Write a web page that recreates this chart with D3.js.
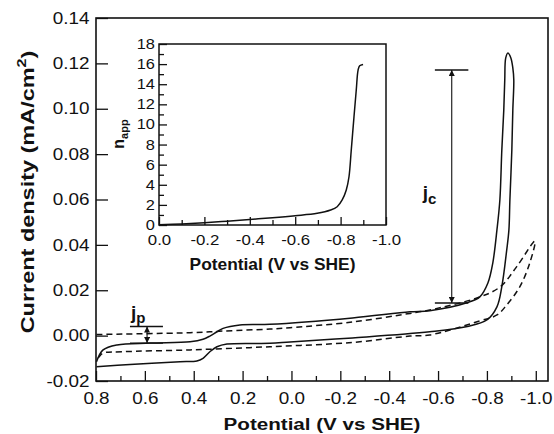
<!DOCTYPE html>
<html>
<head>
<meta charset="utf-8">
<script src="https://cdn.jsdelivr.net/npm/d3@7"></script>
<style>
body { margin: 0; background: #fff; }
text { font-family: "Liberation Sans", Arial, sans-serif; fill: #111; }
</style>
</head>
<body>
<div id="chart"></div>
<script>
// ---- data ----
// solid CV: forward scan (lower branch), peak, return scan (upper branch)
const cvPotential = [0.798, 0.661, 0.456, 0.387, 0.362, 0.334, 0.305, 0.264, 0.088, 0.006, -0.25, -0.566, -0.72, -0.800,
    -0.841, -0.861, -0.881, -0.890, -0.894, -0.902, -0.906, -0.910, -0.906, -0.898, -0.886, -0.877, -0.873, -0.869,
    -0.861, -0.853, -0.841, -0.824, -0.804, -0.771, -0.718, -0.566, -0.485, -0.25, 0.088, 0.211, 0.280, 0.305, 0.334,
    0.362, 0.415, 0.579, 0.714, 0.771, 0.798];
const cvCurrent = [-0.0137, -0.0127, -0.0115, -0.0112, -0.0100, -0.0071, -0.0049, -0.0037, -0.0034, -0.0028, -0.0010,
    0.0017, 0.0040, 0.0069, 0.0127, 0.0216, 0.0377, 0.0466, 0.0598, 0.0818, 0.0994, 0.1127, 0.1180, 0.1224, 0.1246,
    0.1224, 0.1127, 0.0994, 0.0818, 0.0598, 0.0466, 0.0320, 0.0232, 0.0171, 0.0145, 0.0110, 0.0105, 0.0078, 0.0050,
    0.0047, 0.0032, 0.0017, -0.0002, -0.0016, -0.0027, -0.0033, -0.0041, -0.0063, -0.0115];

// dashed CV (background)
const bgPotential = [0.798, 0.415, 0.280, 0.088, 0.006, -0.25, -0.485, -0.566, -0.759, -0.853, -0.922, -0.996, -0.975,
    -0.935, -0.881, -0.841, -0.771, -0.566, -0.485, -0.25, 0.088, 0.415, 0.690, 0.771, 0.788, 0.798];
const bgCurrent = [0.0005, 0.0013, 0.0020, 0.0029, 0.0035, 0.0060, 0.0098, 0.0113, 0.0166, 0.0214, 0.0304, 0.0416,
    0.0319, 0.0216, 0.0135, 0.0091, 0.0065, 0.0003, -0.0002, -0.0030, -0.0049, -0.0063, -0.0071, -0.0077, -0.0094, -0.0108];

// inset: n_app vs potential
const napPotential = [0.0, -0.1, -0.2, -0.3, -0.4, -0.5, -0.6, -0.697, -0.756, -0.785, -0.807, -0.825, -0.837, -0.847,
    -0.859, -0.869, -0.877, -0.884, -0.899];
const napValue = [0.02, 0.1, 0.22, 0.38, 0.55, 0.72, 0.92, 1.16, 1.49, 1.82, 2.49, 3.48, 4.80, 7.46, 10.77, 13.42,
    15.41, 15.84, 15.97];

// annotations: [potential, low current, high current], bar span [from, to]
const jcMark = [-0.656, 0.0144, 0.1171];
const jcBar = [-0.587, -0.724];
const jpMark = [0.591, -0.0033, 0.0040];
const jpBar = [0.661, 0.526];

// ticks
const mainXTicks = [0.8, 0.6, 0.4, 0.2, 0.0, -0.2, -0.4, -0.6, -0.8, -1.0];
const mainXMinor = [0.7, 0.5, 0.3, 0.1, -0.1, -0.3, -0.5, -0.7, -0.9];
const mainYTicks = [-0.02, 0.00, 0.02, 0.04, 0.06, 0.08, 0.10, 0.12, 0.14];
const insetXTicks = [0.0, -0.2, -0.4, -0.6, -0.8, -1.0];
const insetXMinor = [-0.1, -0.3, -0.5, -0.7, -0.9];
const insetYTicks = [0, 2, 4, 6, 8, 10, 12, 14, 16, 18];
const insetYMinor = [1, 3, 5, 7, 9, 11, 13, 15, 17];

const fmt = d3.formatLocale({decimal: ".", thousands: ",", grouping: [3], currency: ["", ""], minus: "-"}).format;

const width = 554, height = 434;
const svg = d3.select("#chart")
    .append("svg")
    .attr("width", width)
    .attr("height", height);

// main scales
const x = d3.scaleLinear().domain([0.8, -1.05]).range([96, 548]);
const y = d3.scaleLinear().domain([-0.02, 0.14]).range([381, 18]);

// the figure's font runs wider than Arial, so labels get a horizontal stretch
function styleAxis(g, size, stretch) {
    g.attr("font-size", size).attr("font-family", "'Liberation Sans', Arial, sans-serif");
    g.select(".domain").remove();
    g.selectAll(".tick line").attr("stroke", "#111").attr("stroke-width", 1.3);
    g.selectAll(".tick text").attr("fill", "#111").attr("transform", `scale(${stretch},1)`);
}

// stretch a centred title along its own direction to a target length
function fitText(t, target) {
    const w = t.node().getBBox().width;
    t.attr("transform", (t.attr("transform") || "") + ` scale(${target / w},1)`);
}

// main x axis (ticks inward)
svg.append("g")
    .attr("transform", `translate(0,${y.range()[0]})`)
    .call(d3.axisBottom(x).tickValues(mainXTicks).tickFormat(fmt(".1f")).tickSize(-10).tickSizeOuter(0).tickPadding(11.5))
    .call(g => styleAxis(g, 16, 1.18));
svg.append("g")
    .attr("transform", `translate(0,${y.range()[0]})`)
    .call(d3.axisBottom(x).tickValues(mainXMinor).tickFormat("").tickSize(-5).tickSizeOuter(0))
    .call(g => styleAxis(g, 16, 1));

// main y axis
svg.append("g")
    .attr("transform", `translate(${x.range()[0]},0)`)
    .call(d3.axisLeft(y).tickValues(mainYTicks).tickFormat(fmt(".2f")).tickSize(-12).tickSizeOuter(0).tickPadding(5.5))
    .call(g => styleAxis(g, 16, 1.18));

// frame
svg.append("rect")
    .attr("x", x.range()[0]).attr("y", y.range()[1])
    .attr("width", x.range()[1] - x.range()[0])
    .attr("height", y.range()[0] - y.range()[1])
    .attr("fill", "none").attr("stroke", "#111").attr("stroke-width", 1.6);

// curves
const line = d3.line()
    .x(d => x(d[0]))
    .y(d => y(d[1]))
    .curve(d3.curveCatmullRom.alpha(0.5));

svg.append("path")
    .attr("d", line(d3.zip(bgPotential, bgCurrent)))
    .attr("fill", "none").attr("stroke", "#111").attr("stroke-width", 1.5)
    .attr("stroke-dasharray", "6,4");

svg.append("path")
    .attr("d", line(d3.zip(cvPotential, cvCurrent)))
    .attr("fill", "none").attr("stroke", "#111").attr("stroke-width", 1.5);

// arrow markers
const defs = svg.append("defs");
defs.append("marker")
    .attr("id", "arr")
    .attr("viewBox", "0 0 10 10")
    .attr("refX", 10).attr("refY", 5)
    .attr("markerWidth", 7).attr("markerHeight", 6)
    .attr("markerUnits", "userSpaceOnUse")
    .attr("orient", "auto-start-reverse")
    .append("path").attr("d", "M0,0L10,5L0,10Z").attr("fill", "#111");

// j_c annotation
svg.append("line")
    .attr("x1", x(jcMark[0])).attr("x2", x(jcMark[0]))
    .attr("y1", y(jcMark[1])).attr("y2", y(jcMark[2]))
    .attr("stroke", "#111").attr("stroke-width", 1.1)
    .attr("marker-start", "url(#arr)").attr("marker-end", "url(#arr)");
[jcMark[1], jcMark[2]].forEach(v => {
    svg.append("line")
        .attr("x1", x(jcBar[0])).attr("x2", x(jcBar[1]))
        .attr("y1", y(v)).attr("y2", y(v))
        .attr("stroke", "#111").attr("stroke-width", 1.4);
});
const jcText = svg.append("text")
    .attr("x", x(jcMark[0]) - 29).attr("y", 199)
    .attr("font-size", 19).attr("font-weight", "bold");
jcText.append("tspan").text("j");
jcText.append("tspan").attr("font-size", 15).attr("dy", 5).text("c");

// j_p annotation
svg.append("line")
    .attr("x1", x(jpMark[0])).attr("x2", x(jpMark[0]))
    .attr("y1", y(jpMark[1])).attr("y2", y(jpMark[2]))
    .attr("stroke", "#111").attr("stroke-width", 1.1)
    .attr("marker-start", "url(#arr)").attr("marker-end", "url(#arr)");
[jpMark[1], jpMark[2]].forEach(v => {
    svg.append("line")
        .attr("x1", x(jpBar[0])).attr("x2", x(jpBar[1]))
        .attr("y1", y(v)).attr("y2", y(v))
        .attr("stroke", "#111").attr("stroke-width", 1.4);
});
const jpText = svg.append("text")
    .attr("x", x(jpMark[0]) - 16).attr("y", 319)
    .attr("font-size", 19).attr("font-weight", "bold");
jpText.append("tspan").text("j");
jpText.append("tspan").attr("font-size", 15).attr("dy", 4).text("p");

// axis titles
const xTitle = svg.append("text")
    .attr("transform", `translate(${(x.range()[0] + x.range()[1]) / 2},430)`)
    .attr("text-anchor", "middle").attr("font-size", 17).attr("font-weight", "bold")
    .text("Potential (V vs SHE)");
fitText(xTitle, 197);
const yTitle = svg.append("text")
    .attr("transform", "translate(34,192) rotate(-90)")
    .attr("text-anchor", "middle").attr("font-size", 17.5).attr("font-weight", "bold");
yTitle.append("tspan").text("Current density (mA/cm");
yTitle.append("tspan").attr("font-size", 12).attr("dy", -8).text("2");
yTitle.append("tspan").attr("dy", 8).text(")");
fitText(yTitle, 283);

// ---- inset ----
const xi = d3.scaleLinear().domain([0, -1.0]).range([159, 386]);
const yi = d3.scaleLinear().domain([0, 18]).range([225, 44]);

svg.append("rect")
    .attr("x", xi.range()[0]).attr("y", yi.range()[1])
    .attr("width", xi.range()[1] - xi.range()[0])
    .attr("height", yi.range()[0] - yi.range()[1])
    .attr("fill", "#fff");

svg.append("g")
    .attr("transform", `translate(0,${yi.range()[0]})`)
    .call(d3.axisBottom(xi).tickValues(insetXTicks).tickFormat(fmt(".1f")).tickSize(-8).tickSizeOuter(0).tickPadding(10.5))
    .call(g => styleAxis(g, 14, 1.2));
svg.append("g")
    .attr("transform", `translate(0,${yi.range()[0]})`)
    .call(d3.axisBottom(xi).tickValues(insetXMinor).tickFormat("").tickSize(-5).tickSizeOuter(0))
    .call(g => styleAxis(g, 14, 1));
svg.append("g")
    .attr("transform", `translate(${xi.range()[0]},0)`)
    .call(d3.axisLeft(yi).tickValues(insetYTicks).tickFormat(fmt("d")).tickSize(-8).tickSizeOuter(0).tickPadding(3.5))
    .call(g => styleAxis(g, 14, 1.17));
svg.append("g")
    .attr("transform", `translate(${xi.range()[0]},0)`)
    .call(d3.axisLeft(yi).tickValues(insetYMinor).tickFormat("").tickSize(-5).tickSizeOuter(0))
    .call(g => styleAxis(g, 14, 1));

svg.append("rect")
    .attr("x", xi.range()[0]).attr("y", yi.range()[1])
    .attr("width", xi.range()[1] - xi.range()[0])
    .attr("height", yi.range()[0] - yi.range()[1])
    .attr("fill", "none").attr("stroke", "#111").attr("stroke-width", 1.5);

const lineInset = d3.line()
    .x(d => xi(d[0]))
    .y(d => yi(d[1]))
    .curve(d3.curveCatmullRom.alpha(0.5));
svg.append("path")
    .attr("d", lineInset(d3.zip(napPotential, napValue)))
    .attr("fill", "none").attr("stroke", "#111").attr("stroke-width", 1.5);

const insetTitle = svg.append("text")
    .attr("transform", `translate(${(xi.range()[0] + xi.range()[1]) / 2},270)`)
    .attr("text-anchor", "middle").attr("font-size", 16).attr("font-weight", "bold")
    .text("Potential (V vs SHE)");
fitText(insetTitle, 166);
const nTitle = svg.append("text")
    .attr("transform", "translate(124,134) rotate(-90)")
    .attr("text-anchor", "middle").attr("font-size", 16).attr("font-weight", "bold");
nTitle.append("tspan").text("n");
nTitle.append("tspan").attr("font-size", 11).attr("dy", 4).text("app");
</script>
</body>
</html>
